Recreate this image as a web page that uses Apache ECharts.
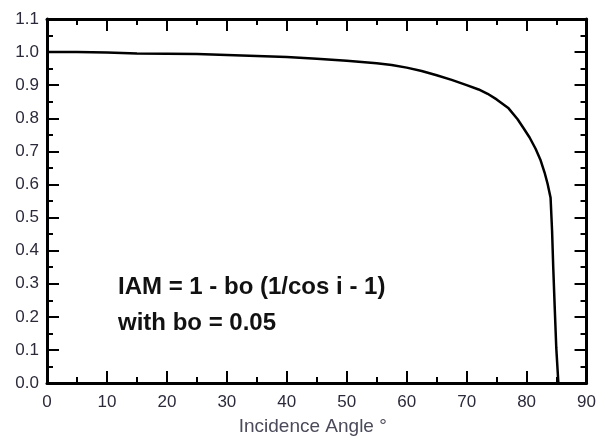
<!DOCTYPE html>
<html>
<head>
<meta charset="utf-8">
<script src="https://cdn.jsdelivr.net/npm/echarts@6/dist/echarts.min.js"></script>
<style>
  html, body { margin: 0; padding: 0; background: #fff; }
  #chart { width: 599px; height: 441px; }
</style>
</head>
<body>
<div id="chart"></div>
<script>
// Incidence angle modifier curve (ASHRAE model, bo = 0.05)
const angles = [0, 5, 10, 15, 20, 25, 30, 35, 40, 45, 50, 55, 57.5, 60, 62.5, 65, 67.5, 70, 72, 73.5, 75, 77, 78.5, 79.5, 80.5, 81.5, 82.3, 83.0, 83.5, 84.0, 84.25, 84.45, 84.7, 84.95, 85.3];
const iam = [1.000, 1.000, 0.999, 0.996, 0.995, 0.994, 0.991, 0.988, 0.985, 0.980, 0.974, 0.966, 0.961, 0.953, 0.943, 0.930, 0.916, 0.900, 0.887, 0.874, 0.857, 0.830, 0.797, 0.770, 0.742, 0.708, 0.675, 0.636, 0.602, 0.560, 0.460, 0.347, 0.224, 0.106, 0.0];
const xTitle = 'Incidence Angle °';
const formulaLines = ['IAM = 1 - bo (1/cos i - 1)', 'with bo = 0.05'];

const FONT = '"Liberation Sans", Arial, sans-serif';
const frameLine = { show: true, onZero: false, lineStyle: { color: '#000', width: 3 } };
const tickStyle = { show: true, inside: true, length: 12, lineStyle: { color: '#000', width: 2 } };
const minorStyle = { show: true, splitNumber: 2, length: 6, lineStyle: { color: '#000', width: 2 } };

const chart = echarts.init(document.getElementById('chart'), null, { renderer: 'canvas' });
chart.setOption({
  animation: false,
  backgroundColor: '#fff',
  grid: { left: 47, right: 11, top: 19, bottom: 48 },
  xAxis: [
    {
      type: 'value', position: 'bottom', min: 0, max: 90, interval: 10,
      axisLine: frameLine, axisTick: tickStyle, minorTick: minorStyle,
      splitLine: { show: false },
      axisLabel: { color: '#2a2a3a', fontSize: 17, fontFamily: FONT, margin: 11 },
      name: xTitle, nameLocation: 'middle', nameGap: 34,
      nameTextStyle: { color: '#4a4a5a', fontSize: 19, fontFamily: FONT, padding: [0, 8, 0, 0] }
    },
    {
      type: 'value', position: 'top', min: 0, max: 90, interval: 10,
      axisLine: frameLine, axisTick: tickStyle, minorTick: minorStyle,
      splitLine: { show: false }, axisLabel: { show: false }
    }
  ],
  yAxis: [
    {
      type: 'value', position: 'left', min: 0, max: 1.1, interval: 0.1,
      axisLine: frameLine, axisTick: tickStyle, minorTick: minorStyle,
      splitLine: { show: false },
      axisLabel: {
        color: '#2a2a3a', fontSize: 17, fontFamily: FONT, margin: 8,
        formatter: v => v.toFixed(1)
      }
    },
    {
      type: 'value', position: 'right', min: 0, max: 1.1, interval: 0.1,
      axisLine: frameLine, axisTick: tickStyle, minorTick: minorStyle,
      splitLine: { show: false }, axisLabel: { show: false }
    }
  ],
  series: [{
    type: 'line',
    data: angles.map((a, i) => [a, iam[i]]),
    showSymbol: false,
    lineStyle: { color: '#000', width: 2.5 },
    z: 3
  }],
  graphic: formulaLines.map((t, i) => ({
    type: 'text',
    left: 118,
    top: 275 + i * 36,
    style: { text: t, fill: '#111', font: 'bold 24px ' + FONT }
  }))
});
</script>
</body>
</html>
